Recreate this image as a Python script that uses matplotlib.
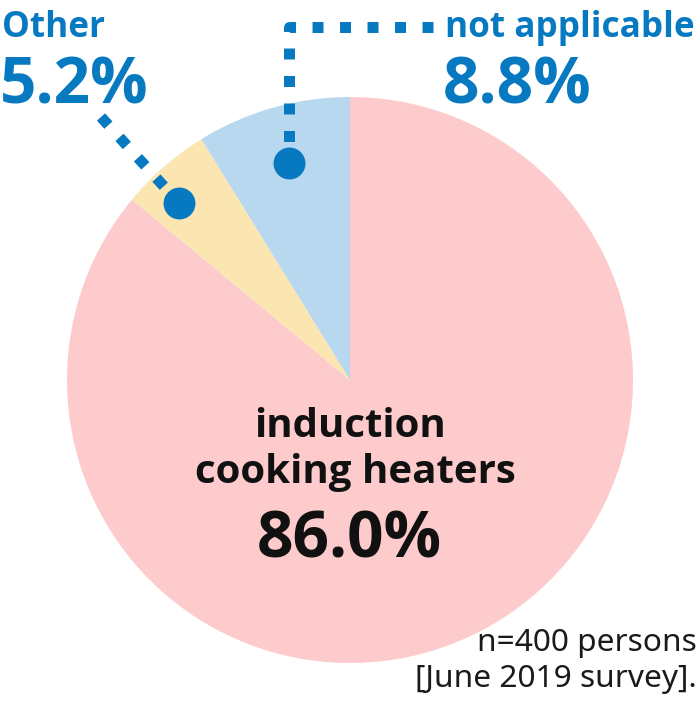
import matplotlib.pyplot as plt
from matplotlib import font_manager

plt.rcParams['lines.scale_dashes'] = False

# data
labels = ['induction\ncooking heaters', 'Other', 'not applicable']
values = [86.0, 5.2, 8.8]
colors = ['#fdcbcb', '#fbe6b1', '#b7d8ef']
note = 'n=400 persons\n[June 2019 survey].'

# pick a family that really has a bold face
bold_family = 'DejaVu Sans'
for fam in ['Open Sans', 'Noto Sans', 'Lato', 'Roboto']:
    fp = font_manager.FontProperties(family=fam, weight='bold')
    path = font_manager.findfont(fp, fallback_to_default=False)
    if 'bold' in path.lower():
        bold_family = fam
        break
plt.rcParams['font.family'] = ['Noto Sans', 'DejaVu Sans']

W, H = 700, 711
blue = '#0779c1'

fig = plt.figure(figsize=(W / 100, H / 100), dpi=100)
ax = fig.add_axes([0, 0, 1, 1])

# pie in pixel-like coordinates (y measured from the bottom)
ax.pie(values, colors=colors, startangle=90, counterclock=False,
       radius=283, center=(350, H - 380), frame=True,
       wedgeprops=dict(linewidth=0))

ax.set_xlim(0, W)
ax.set_ylim(0, H)
ax.set_aspect('equal')
ax.axis('off')

dash = dict(color=blue, linewidth=7.9, dashes=(7.9, 11.9),
            dash_capstyle='butt', solid_capstyle='butt')

# leader for "Other"
ax.plot([101, 179], [H - 117, H - 203], **dash)
ax.plot(179, H - 203, 'o', color=blue, markersize=23, markeredgewidth=0)

# leader for "not applicable"
ax.plot([433, 289, 289], [H - 27, H - 27, H - 150], **dash)
ax.plot(289, H - 163, 'o', color=blue, markersize=23, markeredgewidth=0)

bold = dict(family=[bold_family, 'DejaVu Sans'], fontweight='bold')

# outer labels
ax.text(2, H - 37, labels[1], color=blue, fontsize=25.3,
        ha='left', va='baseline', **bold)
ax.text(0, H - 103, f'{values[1]:.1f}%', color=blue, fontsize=46,
        ha='left', va='baseline', **bold)
ax.text(445, H - 37, labels[2], color=blue, fontsize=25.3,
        ha='left', va='baseline', **bold)
ax.text(443, H - 103, f'{values[2]:.1f}%', color=blue, fontsize=46,
        ha='left', va='baseline', **bold)

# center label
line1, line2 = labels[0].split('\n')
ax.text(350, H - 437, line1, color='#111111', fontsize=29,
        ha='center', va='baseline', **bold)
ax.text(355, H - 483, line2, color='#111111', fontsize=29,
        ha='center', va='baseline', **bold)
ax.text(349, H - 557, f'{values[0]:.1f}%', color='#111111', fontsize=46,
        ha='center', va='baseline', **bold)

# footnote
ax.text(697, H - 687, note, color='#1a1a1a', fontsize=22.8, ha='right',
        va='baseline', linespacing=1.25, multialignment='right')

fig.savefig('out.png', dpi=100)
